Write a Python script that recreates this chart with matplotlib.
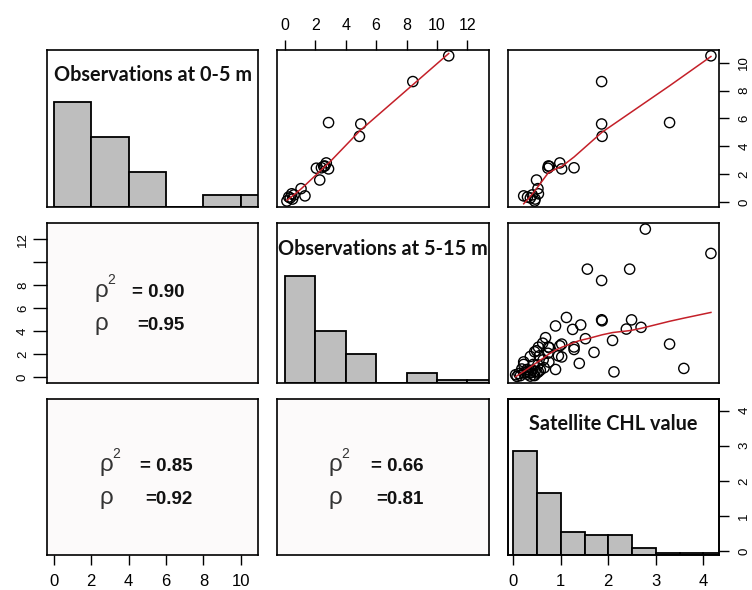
import numpy as np
import matplotlib
matplotlib.use("Agg")
import matplotlib.pyplot as plt
from matplotlib import font_manager

# ---------------------------------------------------------------------------
# Data
# ---------------------------------------------------------------------------
var_titles = ["Observations at 0-5 m", "Observations at 5-15 m", "Satellite CHL value"]

# Stations with all three measurements (CHL)
obs05_full = [10.50, 8.65, 5.70, 5.60, 4.71, 2.80, 2.58, 2.42, 2.37, 2.45,
              2.55, 1.57, 0.95, 0.43, 0.58, 0.28, 0.20, 0.06, 0.35, 0.50]
obs515_full = [10.77, 8.41, 2.87, 4.99, 4.90, 2.72, 2.62, 2.07, 2.87, 2.40,
               2.55, 2.29, 1.06, 1.32, 0.45, 0.35, 0.50, 0.13, 0.25, 0.60]
sat_full = [4.16, 1.86, 3.29, 1.86, 1.87, 0.98, 0.74, 0.73, 1.02, 1.28,
            0.76, 0.49, 0.52, 0.22, 0.53, 0.36, 0.46, 0.45, 0.30, 0.40]

# Stations with 5-15 m observations and satellite values only
sat_extra = [2.78, 1.56, 2.45, 1.12, 0.89, 1.42, 1.25, 2.49, 2.38, 2.69,
             0.68, 1.52, 2.09, 0.53, 1.70, 1.28, 0.62, 0.45,
             0.95, 0.36, 0.55, 1.39, 0.89, 2.12, 3.59, 0.22, 0.42, 0.65,
             0.22, 0.08, 0.36, 0.50, 0.05, 0.29, 0.15, 0.43, 0.63, 1.02,
             0.12, 0.30, 0.57, 0.75, 0.18]
obs515_extra = [12.89, 9.40, 9.40, 5.19, 4.45, 4.54, 4.15, 4.98, 4.18, 4.33,
                3.43, 3.34, 3.19, 2.60, 2.15, 2.62, 2.95, 2.20,
                1.85, 1.79, 1.85, 1.19, 0.66, 0.45, 0.75, 1.10, 1.10, 0.81,
                0.36, 0.05, 0.08, 0.36, 0.20, 0.66, 0.12, 0.15, 1.50, 1.75,
                0.30, 0.45, 0.60, 1.30, 0.70]

# Histogram breaks
obs_breaks = [0, 2, 4, 6, 8, 10, 12, 14]
sat_breaks = [0, 0.5, 1.0, 1.5, 2.0, 2.5, 3.0, 3.5, 4.0, 4.5]
# All satellite match-ups (including those without in-situ data), per bin
sat_hist_counts = [62, 37, 14, 12, 12, 4, 1, 1, 1]

# Correlations shown in the lower panels: (row, col) -> (rho^2, rho)
rho2_values = [0.90, 0.85, 0.66]
rho_values = [0.95, 0.92, 0.81]
lower_cells = [(1, 0), (2, 0), (2, 1)]

# Axis ranges and ticks per variable
var_limits = [(-0.37, 10.92), (-0.52, 13.42), (-0.11, 4.33)]
var_ticks = [[0, 2, 4, 6, 8, 10], [0, 2, 4, 6, 8, 10, 12], [0, 1, 2, 3, 4]]
row2_tick_labels = ["0", "2", "4", "6", "8", "", "12"]


# ---------------------------------------------------------------------------
# Helpers
# ---------------------------------------------------------------------------
def lowess(x, y, f=2.0 / 3.0, iters=3):
    """Robust locally weighted linear smoother (Cleveland)."""
    x = np.asarray(x, float)
    y = np.asarray(y, float)
    order = np.argsort(x, kind="mergesort")
    x, y = x[order], y[order]
    n = len(x)
    ns = max(min(int(round(f * n)), n), 2)
    rw = np.ones(n)
    fit = np.zeros(n)
    for it in range(iters + 1):
        for i in range(n):
            d = np.abs(x - x[i])
            h = max(np.sort(d)[ns - 1], 1e-12)
            u = d / h
            w = np.where(u < 1, (1 - u ** 3) ** 3, 0.0) * rw
            sw = w.sum()
            if sw <= 0:
                fit[i] = y[i]
                continue
            xm = (w * x).sum() / sw
            ym = (w * y).sum() / sw
            sxx = (w * (x - xm) ** 2).sum()
            if sxx > 1e-10:
                b = (w * (x - xm) * (y - ym)).sum() / sxx
                fit[i] = ym + b * (x[i] - xm)
            else:
                fit[i] = ym
        if it == iters:
            break
        res = y - fit
        s = np.median(np.abs(res))
        if s <= 0:
            break
        uu = res / (6 * s)
        rw = np.where(np.abs(uu) < 1, (1 - uu ** 2) ** 2, 0.0)
    return x, fit


names = {f.name for f in font_manager.fontManager.ttflist}
narrow_font = "Liberation Sans Narrow" if "Liberation Sans Narrow" in names else "Liberation Sans"
title_font = "Lato" if "Lato" in names else "DejaVu Sans"

# ---------------------------------------------------------------------------
# Figure layout (pixel boxes of the 3x3 panel grid)
# ---------------------------------------------------------------------------
W, H = 752, 590
col_px = [(47, 258), (277, 489), (508, 719)]
row_px = [(50, 207), (223, 383), (399, 555)]

fig = plt.figure(figsize=(W / 100, H / 100), dpi=100)
fig.patch.set_facecolor("white")

axes = {}
for r in range(3):
    for c in range(3):
        x0, x1 = col_px[c]
        y0, y1 = row_px[r]
        ax = fig.add_axes([x0 / W, 1 - y1 / H, (x1 - x0) / W, (y1 - y0) / H])
        for sp in ax.spines.values():
            sp.set_linewidth(1.2)
            sp.set_color("black")
        ax.set_xticks([])
        ax.set_yticks([])
        ax.set_xlim(var_limits[c])
        axes[(r, c)] = ax

tick_kw = dict(direction="out", length=7, width=1.0, colors="black")

obs05_all = np.array(obs05_full)
obs515_all = np.array(obs515_full + obs515_extra)


def scatter_panel(ax, x, y):
    ax.scatter(x, y, s=54, facecolors="none", edgecolors="black",
               linewidths=1.0, zorder=2, clip_on=True)
    lx, ly = lowess(x, y)
    ax.plot(lx, ly, color="#c42029", lw=1.1, zorder=3)


# Upper panels: scatter with smoother
scatter_panel(axes[(0, 1)], obs515_full, obs05_full)
scatter_panel(axes[(0, 2)], sat_full, obs05_full)
scatter_panel(axes[(1, 2)], sat_full + sat_extra, obs515_full + obs515_extra)
for c in (1, 2):
    axes[(0, c)].set_ylim(var_limits[0])
axes[(1, 2)].set_ylim(var_limits[1])


# Diagonal panels: histograms scaled to the tallest bar
def hist_panel(ax, breaks, counts, title):
    breaks = np.asarray(breaks, float)
    counts = np.asarray(counts, float)
    heights = counts / counts.max()
    ax.bar(breaks[:-1], heights, width=np.diff(breaks), align="edge",
           color="#bebebe", edgecolor="black", linewidth=1.3, zorder=2)
    ax.set_ylim(0, 1.5)
    ax.text(0.5, 0.80, title, transform=ax.transAxes, ha="center", va="baseline",
            fontsize=14.3, fontweight="bold", family=title_font, color="#111111")


c05, _ = np.histogram(obs05_all, bins=obs_breaks[:7])
c515, _ = np.histogram(obs515_all, bins=obs_breaks)
hist_panel(axes[(0, 0)], obs_breaks[:7], c05, var_titles[0])
hist_panel(axes[(1, 1)], obs_breaks, c515, var_titles[1])
hist_panel(axes[(2, 2)], sat_breaks, sat_hist_counts, var_titles[2])

# Lower panels: correlation text
rho_left = {(1, 0): 0.225, (2, 0): 0.25, (2, 1): 0.245}
val_right = {(1, 0): 0.65, (2, 0): 0.69, (2, 1): 0.69}
for k, cell in enumerate(lower_cells):
    ax = axes[cell]
    ax.set_facecolor("#fcfafa")
    xl, xr = rho_left[cell], val_right[cell]
    for yb, sq, val in ((0.54, True, "= %.2f" % rho2_values[k]),
                        (0.33, False, "=%.2f" % rho_values[k])):
        ax.text(xl, yb, "ρ", transform=ax.transAxes, ha="left", va="baseline",
                fontsize=17.5, family="Liberation Sans", color="#333333")
        if sq:
            ax.annotate("2", xy=(xl, yb), xycoords="axes fraction",
                        xytext=(9.2, 9.0), textcoords="offset points",
                        ha="left", va="baseline", fontsize=10,
                        family="Liberation Sans", color="#333333")
        ax.text(xr, yb, val, transform=ax.transAxes, ha="right", va="baseline",
                fontsize=13.5, fontweight="bold", family="Liberation Sans",
                color="#111111")

# ---------------------------------------------------------------------------
# Outer axes (alternating sides)
# ---------------------------------------------------------------------------
# top of column 2
ax = axes[(0, 1)]
ax.xaxis.tick_top()
ax.set_xticks(var_ticks[1])
ax.set_xticklabels([str(t) for t in var_ticks[1]], family=narrow_font, fontsize=11.5)
ax.tick_params(axis="x", pad=5, **tick_kw)

# right of row 1
ax = axes[(0, 2)]
ax.yaxis.tick_right()
ax.set_yticks(var_ticks[0])
ax.set_yticklabels([str(t) for t in var_ticks[0]], rotation=90, va="center",
                   family="Liberation Sans", fontsize=9.5)
ax.tick_params(axis="y", pad=7, **tick_kw)

# left of row 2
ax = axes[(1, 0)]
ax.set_ylim(var_limits[1])
ax.set_yticks(var_ticks[1])
ax.set_yticklabels(row2_tick_labels, rotation=90, va="center",
                   family="Liberation Sans", fontsize=9.5)
ax.tick_params(axis="y", pad=3, direction="out", length=10, width=1.0, colors="black")

# bottom of column 1
ax = axes[(2, 0)]
ax.set_xticks(var_ticks[0])
ax.set_xticklabels([str(t) for t in var_ticks[0]], family=narrow_font, fontsize=12)
ax.tick_params(axis="x", pad=7, **tick_kw)

# bottom of column 3 and right of row 3
ax = axes[(2, 2)]
ax.set_xticks(var_ticks[2])
ax.set_xticklabels([str(t) for t in var_ticks[2]], family=narrow_font, fontsize=12)
ax.tick_params(axis="x", pad=7, **tick_kw)
ax2 = ax.twinx()
ax2.set_ylim(var_limits[2])
ax2.set_yticks(var_ticks[2])
ax2.set_yticklabels([str(t) for t in var_ticks[2]], rotation=90, va="center",
                    family="Liberation Sans", fontsize=9.5)
ax2.tick_params(axis="y", pad=7, **tick_kw)
for sp in ax2.spines.values():
    sp.set_linewidth(1.2)

fig.savefig("out.png", dpi=100, facecolor="white")
